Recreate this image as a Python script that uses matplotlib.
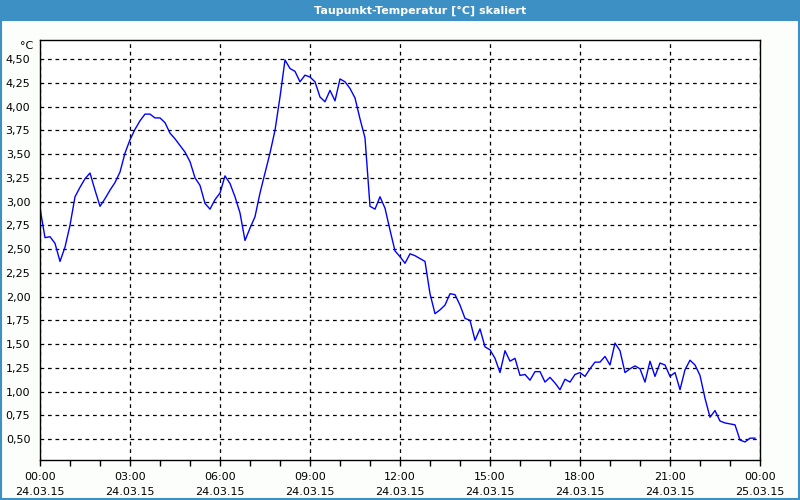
import matplotlib
matplotlib.use("Agg")
import matplotlib.pyplot as plt
from matplotlib.patches import Rectangle
from matplotlib.ticker import MultipleLocator, FixedLocator

# dew point, one value every 10 minutes from 24.03.15 00:00
dewpoint = [
    2.93, 2.62, 2.63, 2.56, 2.37, 2.52, 2.75, 3.05, 3.15, 3.24,
    3.30, 3.12, 2.95, 3.03, 3.12, 3.20, 3.31, 3.51, 3.65, 3.76,
    3.85, 3.92, 3.92, 3.88, 3.88, 3.83, 3.72, 3.66, 3.59, 3.52,
    3.42, 3.25, 3.17, 2.98, 2.92, 3.02, 3.09, 3.27, 3.19, 3.05,
    2.88, 2.59, 2.72, 2.84, 3.09, 3.30, 3.51, 3.75, 4.10, 4.49,
    4.40, 4.37, 4.26, 4.33, 4.31, 4.26, 4.10, 4.05, 4.17, 4.06,
    4.29, 4.26, 4.19, 4.09, 3.87, 3.67, 2.95, 2.92, 3.05, 2.93,
    2.70, 2.48, 2.42, 2.35, 2.45, 2.43, 2.40, 2.37, 2.03, 1.82,
    1.86, 1.91, 2.03, 2.02, 1.91, 1.77, 1.75, 1.54, 1.66, 1.47,
    1.44, 1.35, 1.20, 1.43, 1.32, 1.35, 1.17, 1.18, 1.12, 1.21,
    1.21, 1.10, 1.15, 1.09, 1.02, 1.13, 1.10, 1.18, 1.20, 1.16,
    1.24, 1.31, 1.31, 1.37, 1.28, 1.51, 1.43, 1.20, 1.24, 1.27,
    1.24, 1.10, 1.32, 1.16, 1.30, 1.28, 1.16, 1.20, 1.02, 1.23,
    1.33, 1.28, 1.17, 0.93, 0.73, 0.80, 0.69, 0.67, 0.66, 0.65,
    0.49, 0.47, 0.51, 0.51,
]
hours = [i / 6 for i in range(len(dewpoint))]

tick_hours = [0, 3, 6, 9, 12, 15, 18, 21, 24]
tick_labels = [
    "00:00\n24.03.15", "03:00\n24.03.15", "06:00\n24.03.15",
    "09:00\n24.03.15", "12:00\n24.03.15", "15:00\n24.03.15",
    "18:00\n24.03.15", "21:00\n24.03.15", "00:00\n25.03.15",
]
y_ticks = [0.5 + 0.25 * k for k in range(17)]

bar_blue = "#3c90c4"

fig = plt.figure(figsize=(8, 5), dpi=100, facecolor="#fcfefc")

# title bar and frame
fig.patches.append(Rectangle((0, 1 - 21 / 500), 1, 21 / 500, transform=fig.transFigure,
                             facecolor=bar_blue, edgecolor="none", zorder=0))
fig.patches.append(Rectangle((0.001, 0.002), 0.998, 0.997, transform=fig.transFigure,
                             facecolor="none", edgecolor=bar_blue, linewidth=1.5, zorder=0))
fig.text(420 / 800, 1 - 10.5 / 500, "Taupunkt-Temperatur [°C] skaliert", color="white",
         fontsize=8, fontweight="bold", ha="center", va="center")

ax = fig.add_axes([40 / 800, 40 / 500, 720 / 800, 420 / 500])
ax.set_facecolor("white")
ax.plot(hours, dewpoint, color="#0000ff", linewidth=1)

ax.set_xlim(0, 24)
ax.set_ylim(0.28, 4.70)
ax.xaxis.set_major_locator(FixedLocator(tick_hours))
ax.xaxis.set_minor_locator(MultipleLocator(1))
ax.set_xticklabels(tick_labels, fontsize=8, linespacing=1.6)
ax.set_yticks(y_ticks)
ax.set_yticklabels([f"{v:.2f}".replace(".", ",") for v in y_ticks], fontsize=8)

ax.tick_params(axis="x", which="major", direction="out", length=4, width=1, pad=5)
ax.tick_params(axis="x", which="minor", direction="out", length=4, width=1)
ax.tick_params(axis="y", length=0, pad=7)
ax.grid(True, which="major", color="black", linestyle=(0, (3, 3)), linewidth=0.9)

for s in ax.spines.values():
    s.set_color("black")
    s.set_linewidth(1)

ax.text(-7 / 720, 1 - 6 / 420, "°C", transform=ax.transAxes, ha="right", va="center",
        fontsize=8)

fig.savefig("out.png", dpi=100, facecolor=fig.get_facecolor())
